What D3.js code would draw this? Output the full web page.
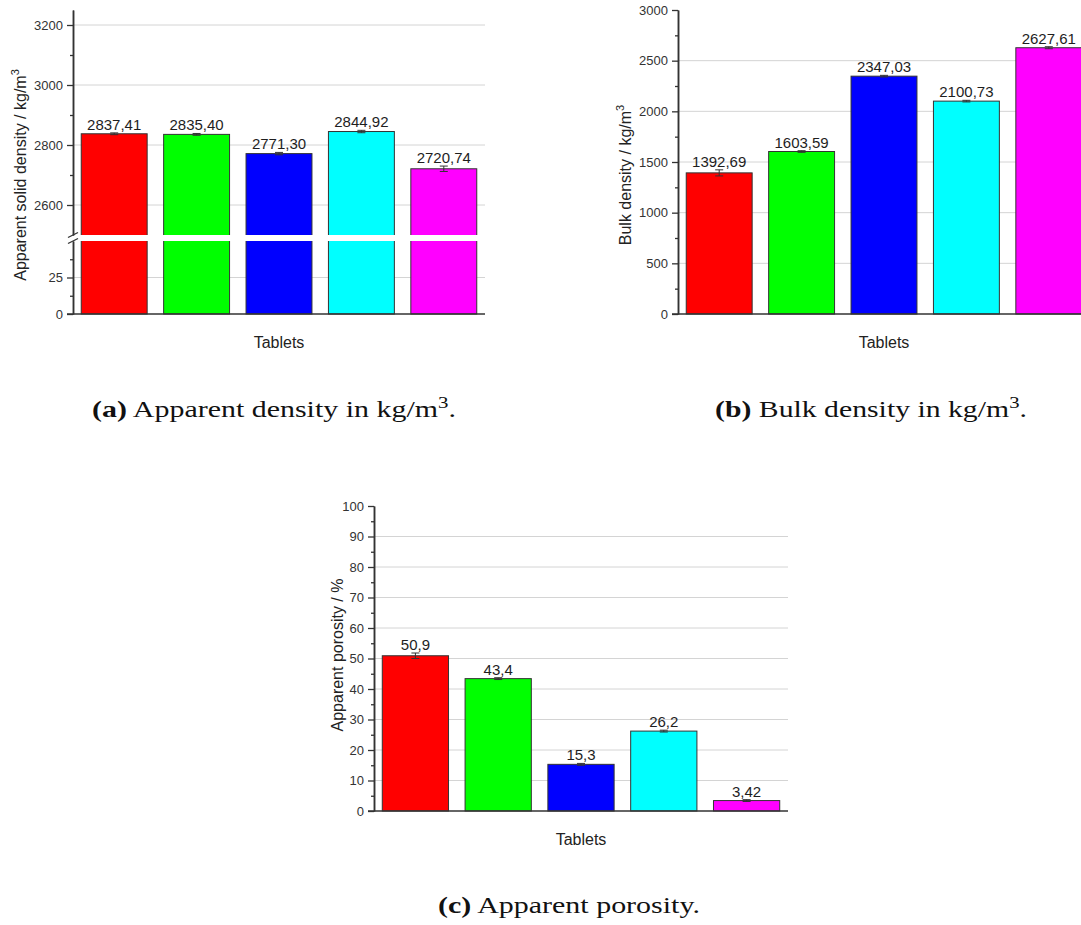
<!DOCTYPE html>
<html>
<head>
<meta charset="utf-8">
<script src="https://cdn.jsdelivr.net/npm/d3@7"></script>
<style>
  body { margin: 0; background: #fff; }
  svg { display: block; }
</style>
</head>
<body>
<svg id="fig" width="1081" height="925"></svg>
<script>
// ---- data ----
const tablets = ["T1", "T2", "T3", "T4", "T5"];
const barColors = ["#ff0000", "#00ff00", "#0000ff", "#00ffff", "#ff00ff"];

const solidDensity = [2837.41, 2835.40, 2771.30, 2844.92, 2720.74];
const solidDensityErr = [3, 3, 4, 4, 9];
const solidDecimals = [2, 2, 2, 2, 2];

const bulkDensity = [1392.69, 1603.59, 2347.03, 2100.73, 2627.61];
const bulkDensityErr = [30, 8, 8, 8, 10];
const bulkDecimals = [2, 2, 2, 2, 2];

const porosity = [50.9, 43.4, 15.3, 26.2, 3.42];
const porosityErr = [0.9, 0.3, 0.3, 0.3, 0.3];
const porosityDecimals = [1, 1, 1, 1, 2];

// tick values
const solidUpperTicks = [2600, 2800, 3000, 3200];
const solidUpperMinor = [2700, 2900, 3100];
const solidLowerTicks = [0, 25];
const solidLowerMinor = [12.5, 37.5];
const bulkTicks = [0, 500, 1000, 1500, 2000, 2500, 3000];
const bulkMinor = [250, 750, 1250, 1750, 2250, 2750];
const porosityTicks = [0, 10, 20, 30, 40, 50, 60, 70, 80, 90, 100];
const porosityMinor = [5, 15, 25, 35, 45, 55, 65, 75, 85, 95];

// ---- drawing ----
const svg = d3.select("#fig");
const SANS = "'Liberation Sans', Arial, Helvetica, sans-serif";
const SERIF = "'Liberation Serif', 'Times New Roman', serif";
const INK = "#333";
const fmt = (v, d) => v.toFixed(d).replace(".", ",");

function styleAxis(g) {
  g.attr("font-family", SANS).attr("font-size", 13);
  g.selectAll("text").attr("fill", INK);
  g.selectAll(".tick line").attr("stroke", INK).attr("stroke-width", 1.3);
  g.select(".domain").attr("stroke", INK).attr("stroke-width", 1.5);
}

function drawPanel(opt) {
  const { x0, x1, values, errs, decimals, segments, yVal, yZero, title, titleX, titleY, xTitleY } = opt;
  const g = svg.append("g");
  const x = d3.scaleBand().domain(tablets).range([x0, x1]).paddingInner(0.2).paddingOuter(0.1);

  // horizontal gridlines at inner major ticks
  segments.forEach(seg => {
    const [lo, hi] = seg.scale.domain();
    g.append("g").selectAll("line")
      .data(seg.major.filter(t => t > lo && t < hi))
      .join("line")
      .attr("x1", x0).attr("x2", x1)
      .attr("y1", d => seg.scale(d)).attr("y2", d => seg.scale(d))
      .attr("stroke", "#d4d4d4").attr("stroke-width", 1);
  });

  // bars
  g.append("g").selectAll("rect")
    .data(values)
    .join("rect")
    .attr("x", (d, i) => x(tablets[i]))
    .attr("width", x.bandwidth())
    .attr("y", d => yVal(d))
    .attr("height", d => yZero - yVal(d))
    .attr("fill", (d, i) => barColors[i])
    .attr("stroke", INK).attr("stroke-width", 1);

  // error bars
  const eb = g.append("g").attr("stroke", INK).attr("stroke-width", 1);
  values.forEach((v, i) => {
    const cx = x(tablets[i]) + x.bandwidth() / 2;
    const yHi = yVal(v + errs[i]), yLo = yVal(v - errs[i]);
    eb.append("line").attr("x1", cx).attr("x2", cx).attr("y1", yHi).attr("y2", yLo);
    eb.append("line").attr("x1", cx - 4).attr("x2", cx + 4).attr("y1", yHi).attr("y2", yHi);
    eb.append("line").attr("x1", cx - 4).attr("x2", cx + 4).attr("y1", yLo).attr("y2", yLo);
  });

  // value labels
  g.append("g").selectAll("text")
    .data(values)
    .join("text")
    .attr("x", (d, i) => x(tablets[i]) + x.bandwidth() / 2)
    .attr("y", (d, i) => yVal(d + errs[i]) - 3)
    .attr("text-anchor", "middle")
    .attr("font-family", SANS).attr("font-size", 15)
    .attr("fill", "#1e1e1e")
    .text((d, i) => fmt(d, decimals[i]));

  // axis break (white band through the plot)
  if (segments.length > 1) {
    const gapTop = segments[0].scale.range()[0];
    const gapBot = segments[1].scale.range()[1];
    g.append("rect")
      .attr("x", x0 - 8).attr("width", x1 - x0 + 10)
      .attr("y", gapTop).attr("height", gapBot - gapTop)
      .attr("fill", "#fff");
    [gapTop, gapBot].forEach(yy => {
      g.append("line")
        .attr("x1", x0 - 5).attr("y1", yy + 2.5)
        .attr("x2", x0 + 5).attr("y2", yy - 2.5)
        .attr("stroke", INK).attr("stroke-width", 1.3);
    });
  }

  // y axes (one per segment)
  segments.forEach(seg => {
    const minor = g.append("g").attr("transform", `translate(${x0},0)`)
      .call(d3.axisLeft(seg.scale).tickValues(seg.minor).tickSize(3).tickSizeOuter(0).tickFormat(""));
    styleAxis(minor);
    const major = g.append("g").attr("transform", `translate(${x0},0)`)
      .call(d3.axisLeft(seg.scale).tickValues(seg.major).tickSize(6).tickSizeOuter(0).tickPadding(4).tickFormat(d3.format("d")));
    styleAxis(major);
  });

  // x axis baseline
  g.append("line")
    .attr("x1", x0 - 6).attr("x2", x1)
    .attr("y1", yZero).attr("y2", yZero)
    .attr("stroke", INK).attr("stroke-width", 1.5);

  // axis titles
  g.append("text")
    .attr("x", (x0 + x1) / 2).attr("y", xTitleY)
    .attr("text-anchor", "middle")
    .attr("font-family", SANS).attr("font-size", 16).attr("fill", "#222")
    .text("Tablets");

  const yt = g.append("text")
    .attr("transform", `translate(${titleX + 6},${titleY}) rotate(-90)`)
    .attr("text-anchor", "middle")
    .attr("font-family", SANS).attr("font-size", 16).attr("fill", "#222");
  yt.append("tspan").text(title[0]);
  if (title[1]) {
    yt.append("tspan").attr("font-size", 11).attr("dy", -7).text(title[1]);
  }
}

// (a) apparent solid density, broken axis
const aUpper = d3.scaleLinear().domain([2500, 3250]).range([235, 10]);
const aLower = d3.scaleLinear().domain([0, 50]).range([314, 241]);
drawPanel({
  x0: 73, x1: 485,
  values: solidDensity, errs: solidDensityErr, decimals: solidDecimals,
  segments: [
    { scale: aUpper, major: solidUpperTicks, minor: solidUpperMinor },
    { scale: aLower, major: solidLowerTicks, minor: solidLowerMinor }
  ],
  yVal: aUpper, yZero: aLower(0),
  title: ["Apparent solid density / kg/m", "3"], titleX: 20, titleY: 175,
  xTitleY: 348
});

// (b) bulk density
const bScale = d3.scaleLinear().domain([0, 3000]).range([314, 10]);
drawPanel({
  x0: 678, x1: 1090,
  values: bulkDensity, errs: bulkDensityErr, decimals: bulkDecimals,
  segments: [{ scale: bScale, major: bulkTicks, minor: bulkMinor }],
  yVal: bScale, yZero: bScale(0),
  title: ["Bulk density / kg/m", "3"], titleX: 625, titleY: 175,
  xTitleY: 348
});

// (c) apparent porosity
const cScale = d3.scaleLinear().domain([0, 100]).range([811, 506]);
drawPanel({
  x0: 374, x1: 788,
  values: porosity, errs: porosityErr, decimals: porosityDecimals,
  segments: [{ scale: cScale, major: porosityTicks, minor: porosityMinor }],
  yVal: cScale, yZero: cScale(0),
  title: ["Apparent porosity / %"], titleX: 337, titleY: 655,
  xTitleY: 845
});

// sub-figure captions
function caption(cx, baseline, width, parts) {
  const fs = 23;
  const t = svg.append("text")
    .attr("x", 0).attr("y", 0)
    .attr("text-anchor", "middle")
    .attr("font-family", SERIF).attr("font-size", fs).attr("fill", "#111");
  let raised = false;
  parts.forEach(p => {
    const s = t.append("tspan").text(p.t);
    if (p.bold) s.attr("font-weight", "bold");
    if (p.sup) { s.attr("font-size", 16).attr("dy", -9); raised = true; }
    else if (raised) { s.attr("dy", 9); raised = false; }
  });
  const len = t.node().getComputedTextLength();
  t.attr("transform", `translate(${cx},${baseline}) scale(${width / len},1)`);
}

caption(274, 417, 364, [
  { t: "(a)", bold: true }, { t: " Apparent density in kg/m" }, { t: "3", sup: true }, { t: "." }
]);
caption(871, 417, 312, [
  { t: "(b)", bold: true }, { t: " Bulk density in kg/m" }, { t: "3", sup: true }, { t: "." }
]);
caption(569, 913, 262, [
  { t: "(c)", bold: true }, { t: " Apparent porosity." }
]);
</script>
</body>
</html>
